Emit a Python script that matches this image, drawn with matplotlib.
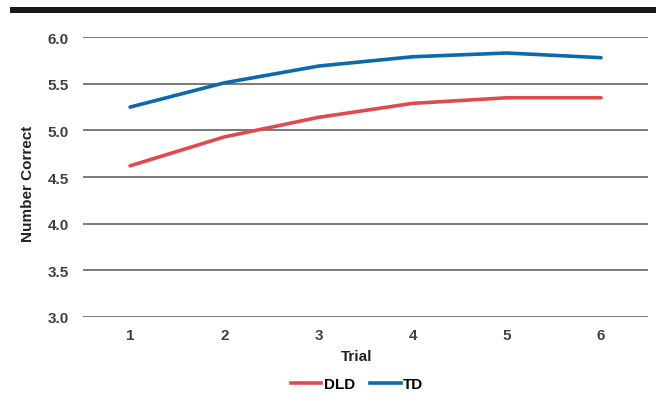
import matplotlib
matplotlib.use("Agg")
import matplotlib.pyplot as plt
from matplotlib.lines import Line2D

plt.rcParams['font.family'] = ['Liberation Sans', 'DejaVu Sans']

trials = [1, 2, 3, 4, 5, 6]
dld = [4.62, 4.93, 5.14, 5.29, 5.35, 5.35]
td = [5.25, 5.51, 5.69, 5.79, 5.83, 5.78]
yticks = [3.0, 3.5, 4.0, 4.5, 5.0, 5.5, 6.0]

red = '#E2494F'
blue = '#0B6AAE'
txt = '#404040'

fig = plt.figure(figsize=(6.56, 4.06), dpi=100)
ax = fig.add_axes([0.1265, 0.217, 0.8615, 0.689])

for y in yticks:
    ax.axhline(y, color='#555555', lw=1.1, zorder=1)

ax.plot(trials, dld, color=red, lw=2.6, solid_capstyle='round', zorder=3, label='DLD')
ax.plot(trials, td, color=blue, lw=2.6, solid_capstyle='round', zorder=3, label='TD')

ax.set_xlim(0.5, 6.5)
ax.set_ylim(3.0, 6.0)
ax.set_xticks(trials)
ax.set_yticks(yticks)
ax.set_yticklabels([f'{v:.1f}' for v in yticks])
ax.tick_params(axis='y', length=0, labelsize=11, labelcolor=txt, pad=10)
ax.tick_params(axis='x', length=0, labelsize=11, labelcolor=txt, pad=8)
for lab in ax.get_xticklabels() + ax.get_yticklabels():
    lab.set_fontweight('bold')
for s in ax.spines.values():
    s.set_visible(False)

ax.set_xlabel('Trial', fontsize=11, fontweight='bold', color='#222222')
ax.xaxis.set_label_coords(0.5 + (357 - 365.5) / 565, -0.139)
ax.xaxis.label.set_va('center')
ax.set_ylabel('Number Correct', fontsize=11, fontweight='bold', color='#222222')
ax.yaxis.set_label_coords((28 - 83) / 565, 0.5 - (184 - 178) / 280)
ax.yaxis.label.set_va('center')

handles = [Line2D([], [], color=red, lw=2.6), Line2D([], [], color=blue, lw=2.6)]
fig.legend(handles, ['DLD', 'TD'], loc='center', bbox_to_anchor=(357 / 656, 1 - 385 / 406), ncol=2,
           frameon=False, handlelength=2.0, handletextpad=0.15, columnspacing=1.0,
           prop={'weight': 'bold', 'size': 11})

# heavy rule across the top
fig.add_artist(plt.Rectangle((10 / 656, 1 - 14 / 406), 1 - 10 / 656, 6 / 406,
                             transform=fig.transFigure, color='#1a1a1a', lw=0))

fig.savefig('out.png', dpi=100)
